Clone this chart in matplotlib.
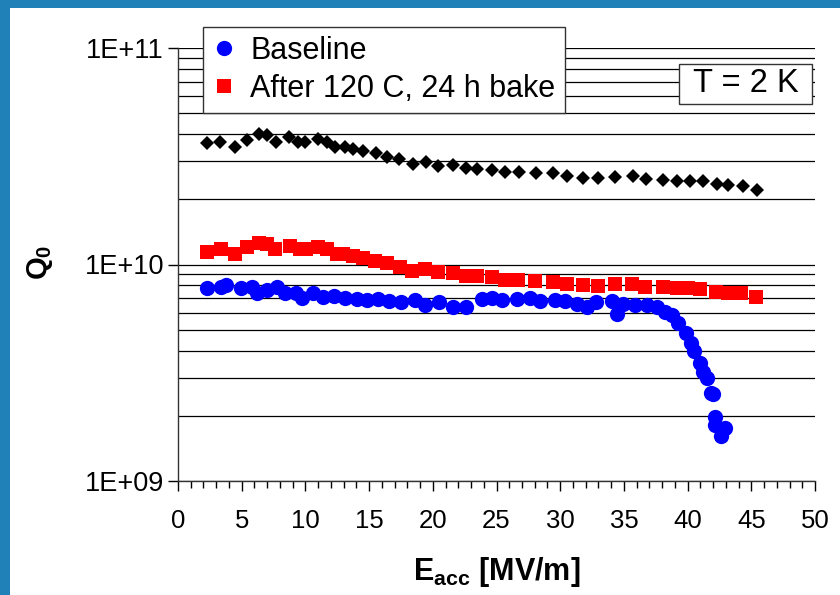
import matplotlib
matplotlib.use("Agg")
import matplotlib.pyplot as plt
from matplotlib.ticker import LogLocator, FixedLocator, MultipleLocator, NullFormatter, FixedFormatter
import numpy as np

plt.rcParams['font.family'] = ['Liberation Sans', 'DejaVu Sans']
plt.rcParams['mathtext.fontset'] = 'custom'
plt.rcParams['mathtext.rm'] = 'Liberation Sans'
plt.rcParams['mathtext.bf'] = 'Liberation Sans:bold'
plt.rcParams['mathtext.it'] = 'Liberation Sans:italic'

# ---- data ----
bake_label = "After 120 C, 24 h bake"
base_label = "Baseline"

black_E = [2.25, 3.30, 4.47, 5.39, 6.38, 6.96, 7.69, 8.74, 9.44, 9.97, 11.01, 11.67, 12.32, 13.11,
           13.76, 14.50, 15.54, 16.43, 17.37, 18.42, 19.47, 20.43, 21.56, 22.61, 23.45, 24.62,
           25.67, 26.79, 28.10, 29.46, 30.56, 31.81, 32.99, 34.30, 35.69, 36.73, 38.05, 39.14,
           40.19, 41.19, 42.28, 43.19, 44.32, 45.42]
black_Q = [3.63e10, 3.69e10, 3.50e10, 3.76e10, 4.01e10, 3.96e10, 3.69e10, 3.87e10, 3.69e10, 3.69e10,
           3.79e10, 3.69e10, 3.50e10, 3.50e10, 3.40e10, 3.35e10, 3.26e10, 3.15e10, 3.06e10, 2.91e10,
           2.98e10, 2.85e10, 2.88e10, 2.78e10, 2.75e10, 2.73e10, 2.68e10, 2.68e10, 2.64e10, 2.64e10,
           2.55e10, 2.50e10, 2.50e10, 2.53e10, 2.55e10, 2.48e10, 2.45e10, 2.44e10, 2.44e10, 2.44e10,
           2.35e10, 2.33e10, 2.30e10, 2.22e10]

bake_E = [2.30, 3.35, 4.47, 5.39, 6.38, 6.96, 7.61, 8.79, 9.58, 10.05, 10.97, 11.67, 12.46, 12.97,
          13.71, 14.50, 15.46, 16.38, 17.43, 18.34, 19.39, 20.43, 21.56, 22.61, 23.45, 24.62, 25.67,
          26.71, 28.02, 29.46, 30.56, 31.81, 32.94, 34.30, 35.66, 36.66, 38.05, 39.14, 40.05, 40.97,
          42.23, 43.15, 44.17, 45.37]
bake_Q = [1.146e10, 1.18e10, 1.118e10, 1.20e10, 1.26e10, 1.245e10, 1.175e10, 1.218e10, 1.175e10,
          1.175e10, 1.208e10, 1.175e10, 1.114e10, 1.114e10, 1.094e10, 1.068e10, 1.042e10, 1.013e10,
          9.77e9, 9.36e9, 9.50e9, 9.26e9, 9.10e9, 8.85e9, 8.85e9, 8.73e9, 8.48e9, 8.48e9, 8.41e9,
          8.33e9, 8.13e9, 8.04e9, 7.98e9, 8.10e9, 8.13e9, 7.90e9, 7.85e9, 7.76e9, 7.76e9, 7.68e9,
          7.49e9, 7.41e9, 7.36e9, 7.10e9]

base_E = [2.30, 3.35, 3.77, 4.95, 5.78, 6.22, 6.96, 7.75, 8.40, 9.26, 9.71, 10.62, 11.40, 12.24,
          13.11, 14.03, 14.81, 15.72, 16.59, 17.48, 18.60, 19.39, 20.51, 21.56, 22.61, 23.84, 24.62,
          25.41, 26.59, 27.63, 28.41, 29.59, 30.38, 31.30, 32.08, 32.81, 34.04, 34.43, 34.95, 35.87,
          36.79, 37.62, 38.23, 38.75, 39.27, 39.87, 40.24, 40.50, 40.97, 41.23, 41.55, 41.81, 41.97,
          42.15, 42.15, 42.93, 42.60]
base_Q = [7.76e9, 7.85e9, 8.01e9, 7.76e9, 7.90e9, 7.41e9, 7.63e9, 7.90e9, 7.36e9, 7.41e9, 6.98e9,
          7.36e9, 7.10e9, 7.15e9, 6.98e9, 6.91e9, 6.86e9, 6.91e9, 6.80e9, 6.73e9, 6.86e9, 6.50e9,
          6.73e9, 6.38e9, 6.34e9, 6.91e9, 6.98e9, 6.86e9, 6.91e9, 6.98e9, 6.80e9, 6.86e9, 6.80e9,
          6.57e9, 6.38e9, 6.73e9, 6.80e9, 5.91e9, 6.57e9, 6.50e9, 6.50e9, 6.38e9, 6.05e9, 5.84e9,
          5.35e9, 4.84e9, 4.35e9, 4.00e9, 3.50e9, 3.20e9, 2.98e9, 2.56e9, 2.53e9, 1.98e9, 1.82e9,
          1.75e9, 1.61e9]

x_ticks = [0, 5, 10, 15, 20, 25, 30, 35, 40, 45, 50]
y_ticks = [1e9, 1e10, 1e11]
y_tick_labels = ["1E+09", "1E+10", "1E+11"]
x_label = r"$\mathbf{E}_{\mathbf{acc}}$ [MV/m]"
y_label = r"$\mathbf{Q}_{\mathbf{0}}$"
note = "T = 2 K"

W, H = 840, 595
fig = plt.figure(figsize=(W / 100, H / 100), dpi=100)
fig.patch.set_facecolor('white')

# blue frame strips (left and top)
fig.patches.append(plt.Rectangle((0, 0), 10 / W, 1, transform=fig.transFigure,
                                 facecolor='#2080b8', edgecolor='none', zorder=0))
fig.patches.append(plt.Rectangle((0, 1 - 8 / H), 1, 8 / H, transform=fig.transFigure,
                                 facecolor='#2080b8', edgecolor='none', zorder=0))

ax = fig.add_axes([178 / W, 1 - 481 / H, (815 - 178) / W, (481 - 48) / H])
ax.set_yscale('log')
ax.set_xlim(0, 50)
ax.set_ylim(1e9, 1e11)

ax.plot(black_E, black_Q, linestyle='none', marker='D', markersize=6.8, color='black',
        markeredgewidth=0, zorder=3)
ax.plot(bake_E, bake_Q, linestyle='none', marker='s', markersize=9.5, color='#ff0000',
        markeredgewidth=0, zorder=3, label=bake_label)
ax.plot(base_E, base_Q, linestyle='none', marker='o', markersize=11, color='#0000ff',
        markeredgewidth=0, zorder=3, label=base_label)

ax.xaxis.set_major_locator(FixedLocator(x_ticks))
ax.xaxis.set_minor_locator(MultipleLocator(1))
ax.yaxis.set_major_locator(FixedLocator(y_ticks))
ax.yaxis.set_major_formatter(FixedFormatter(y_tick_labels))
ax.yaxis.set_minor_locator(LogLocator(base=10, subs=np.arange(2, 10)))
ax.yaxis.set_minor_formatter(NullFormatter())

ax.grid(True, which='both', axis='y', color='black', linewidth=0.9, zorder=1)
ax.set_axisbelow(True)

for s in ['top', 'right']:
    ax.spines[s].set_visible(False)
for s in ['left', 'bottom']:
    ax.spines[s].set_color('#333333')
    ax.spines[s].set_linewidth(1.0)

ax.tick_params(axis='x', which='major', direction='out', length=7, width=1, labelsize=18.5, pad=13)
ax.tick_params(axis='x', which='minor', direction='out', length=5, width=1)
ax.tick_params(axis='y', which='major', direction='out', length=7, width=1, labelsize=19.5, pad=3)
ax.tick_params(axis='y', which='minor', length=0)

fig.text(497 / W, 1 - 572 / H, x_label, ha='center', va='center', fontsize=22, fontweight='bold')
fig.text(40 / W, 1 - 262 / H, y_label, ha='center', va='center', fontsize=21, fontweight='bold',
         rotation=90)

handles, labels = ax.get_legend_handles_labels()
order = [1, 0]
leg = ax.legend([handles[i] for i in order], [labels[i] for i in order],
                loc='upper left', bbox_to_anchor=(203 / W, 1 - 27 / H),
                bbox_transform=fig.transFigure, borderaxespad=0, fancybox=False,
                framealpha=1, edgecolor='#333333', fontsize=22, handlelength=0.75,
                handletextpad=0.5, borderpad=0.3, labelspacing=0.25, markerscale=1.0)
leg.get_frame().set_linewidth(1.0)
leg.set_zorder(5)

# "T = 2 K" annotation box
fig.patches.append(plt.Rectangle((679 / W, 1 - 104 / H), (812 - 679) / W, (104 - 64) / H,
                                 transform=fig.transFigure, facecolor='white',
                                 edgecolor='#333333', linewidth=1.0, zorder=6))
fig.text(745.5 / W, 1 - 84 / H, note, ha='center', va='center', fontsize=23.5, zorder=7)

fig.savefig('out.png', dpi=100, facecolor='white')
